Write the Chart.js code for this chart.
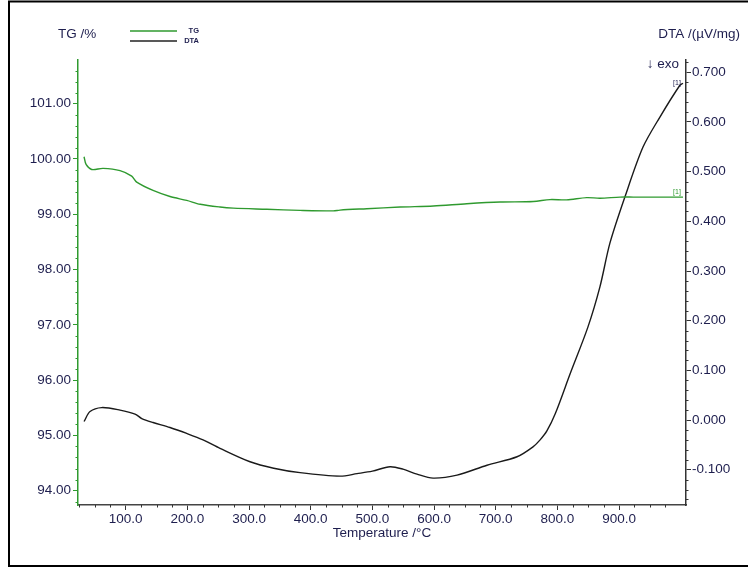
<!DOCTYPE html>
<html>
<head>
<meta charset="utf-8">
<script src="https://cdn.jsdelivr.net/npm/chart.js@4/dist/chart.umd.min.js"></script>
<style>
  html, body { margin: 0; padding: 0; background: #ffffff; }
  #wrap { width: 748px; height: 570px; position: relative; }
</style>
</head>
<body>
<div id="wrap"><canvas id="c" width="748" height="570"></canvas></div>
<script>
// ---- data ----
const tgTemperature = [32.4, 35.7, 44.8, 63.2, 90.8, 109.7, 117.8, 144.3, 171.8, 198.9, 220.8, 252.9, 274.5, 328.7, 382.7, 436.7, 447.5, 490.9, 544.9, 598.9, 653, 707, 761, 788, 815, 847.4, 869, 901.7, 923.3, 960, 1003.7];
const tgValues      = [100.04, 99.90, 99.81, 99.83, 99.79, 99.69, 99.58, 99.43, 99.32, 99.25, 99.18, 99.13, 99.11, 99.09, 99.07, 99.06, 99.075, 99.10, 99.13, 99.15, 99.19, 99.22, 99.23, 99.265, 99.26, 99.30, 99.29, 99.31, 99.31, 99.31, 99.31];

const dtaTemperature = [32.4, 42.1, 61.1, 90.8, 115.1, 126, 144.3, 171.8, 198.9, 225.4, 252.9, 301.6, 340, 382.7, 447.6, 475.1, 500, 528.6, 549.7, 572.4, 598.4, 637.3, 685.9, 734.6, 760.5, 772, 783, 796.7, 821, 849.5, 869, 885.2, 909.5, 938.7, 966.3, 998.7, 1003.7];
const dtaValues      = [-0.003, 0.017, 0.025, 0.020, 0.012, 0.003, -0.005, -0.015, -0.027, -0.040, -0.057, -0.084, -0.097, -0.106, -0.113, -0.108, -0.103, -0.094, -0.099, -0.109, -0.117, -0.111, -0.091, -0.074, -0.054, -0.040, -0.022, 0.013, 0.094, 0.187, 0.268, 0.356, 0.449, 0.549, 0.610, 0.674, 0.678];

const temperatureTicks = [100, 200, 300, 400, 500, 600, 700, 800, 900];
const tgTicks  = [94, 95, 96, 97, 98, 99, 100, 101];
const dtaTicks = [-0.1, 0, 0.1, 0.2, 0.3, 0.4, 0.5, 0.6, 0.7];

const seriesNames = ['TG', 'DTA'];
const axisTitles = { tg: 'TG /%', dta: 'DTA /(\u00B5V/mg)', temp: 'Temperature /\u00B0C', exo: '\u2193 exo' };

// ---- styles ----
const GREEN = '#2f9a2f';
const TEXT = '#1e1e4e';
const FONT = 'Liberation Sans, Arial, sans-serif';

function pairs(xs, ys) { return xs.map((x, i) => ({ x: x, y: ys[i] })); }

const decoPlugin = {
  id: 'deco',
  beforeDraw(chart) {
    const ctx = chart.ctx;
    ctx.save();
    ctx.fillStyle = '#ffffff';
    ctx.fillRect(0, 0, chart.width, chart.height);
    ctx.strokeStyle = '#000000';
    ctx.lineWidth = 2;
    ctx.beginPath();
    ctx.moveTo(760, 1.5);
    ctx.lineTo(9, 1.5);
    ctx.lineTo(9, 566);
    ctx.lineTo(760, 566);
    ctx.stroke();
    ctx.restore();
  },
  afterDraw(chart) {
    const ctx = chart.ctx;
    const a = chart.chartArea;
    const sx = chart.scales.x, sl = chart.scales.yTG, sr = chart.scales.yDTA;
    ctx.save();
    // minor ticks
    ctx.lineWidth = 1;
    ctx.strokeStyle = '#333333';
    ctx.beginPath();
    for (let k = 1; k * 25 <= sx.max; k++) {
      const v = k * 25;
      if (v < sx.min || v % 100 === 0) continue;
      const px = Math.round(sx.getPixelForValue(v)) + 0.5;
      ctx.moveTo(px, a.bottom); ctx.lineTo(px, a.bottom + 2.5);
    }
    for (let k = -9; k <= 37; k++) {
      const v = k * 0.02;
      if (v < sr.min || v > sr.max || k % 5 === 0) continue;
      const py = Math.round(sr.getPixelForValue(v)) + 0.5;
      ctx.moveTo(a.right, py); ctx.lineTo(a.right + 2.5, py);
    }
    ctx.stroke();
    ctx.strokeStyle = GREEN;
    ctx.beginPath();
    for (let k = 465; k <= 510; k++) {
      const v = k * 0.2;
      if (v < sl.min || v > sl.max || k % 5 === 0) continue;
      const py = Math.round(sl.getPixelForValue(v)) + 0.5;
      ctx.moveTo(a.left - 2.5, py); ctx.lineTo(a.left, py);
    }
    ctx.stroke();

    // titles
    ctx.fillStyle = TEXT;
    ctx.font = '13.5px ' + FONT;
    ctx.textBaseline = 'middle';
    ctx.textAlign = 'left';
    ctx.fillText(axisTitles.tg, 58, 34);
    ctx.textAlign = 'right';
    ctx.fillText(axisTitles.dta, 740, 34);
    ctx.fillText(axisTitles.exo, 679, 64);
    ctx.textAlign = 'center';
    ctx.fillText(axisTitles.temp, (a.left + a.right) / 2, 533);

    // legend
    ctx.lineWidth = 1.5;
    ctx.strokeStyle = GREEN;
    ctx.beginPath(); ctx.moveTo(130, 31); ctx.lineTo(177, 31); ctx.stroke();
    ctx.strokeStyle = '#222222';
    ctx.beginPath(); ctx.moveTo(130, 41); ctx.lineTo(177, 41); ctx.stroke();
    ctx.font = 'bold 7.5px ' + FONT;
    ctx.textAlign = 'right';
    ctx.fillStyle = TEXT;
    ctx.fillText(seriesNames[0], 199, 31);
    ctx.fillText(seriesNames[1], 199, 41);

    // end markers
    ctx.font = '7px ' + FONT;
    ctx.textAlign = 'center';
    ctx.fillStyle = TEXT;
    ctx.fillText('[1]', 677, 83);
    ctx.fillStyle = GREEN;
    ctx.fillText('[1]', 677, 192);
    ctx.restore();
  }
};

function setTicks(list) {
  return function (scale) { scale.ticks = list.map(v => ({ value: v })); };
}

new Chart(document.getElementById('c'), {
  type: 'scatter',
  data: {
    datasets: [
      {
        label: seriesNames[0],
        data: pairs(tgTemperature, tgValues),
        yAxisID: 'yTG',
        showLine: true,
        borderColor: GREEN,
        borderWidth: 1.4,
        pointRadius: 0,
        tension: 0.3,
        fill: false
      },
      {
        label: seriesNames[1],
        data: pairs(dtaTemperature, dtaValues),
        yAxisID: 'yDTA',
        showLine: true,
        borderColor: '#1a1a1a',
        borderWidth: 1.4,
        pointRadius: 0,
        tension: 0.3,
        fill: false
      }
    ]
  },
  options: {
    responsive: false,
    animation: false,
    devicePixelRatio: 1,
    layout: { padding: { left: 0, right: 0, top: 60, bottom: 0 } },
    plugins: { legend: { display: false }, tooltip: { enabled: false } },
    scales: {
      x: {
        type: 'linear',
        position: 'bottom',
        min: 22.6,
        max: 1008.6,
        afterBuildTicks: setTicks(temperatureTicks),
        afterFit(scale) { scale.height = 65; },
        grid: { drawOnChartArea: false, drawTicks: true, tickLength: 5, color: '#333333', lineWidth: 1 },
        border: { display: true, color: '#444444', width: 1.5 },
        ticks: {
          autoSkip: false, maxRotation: 0, padding: 1,
          color: TEXT, font: { family: FONT, size: 13.5 },
          callback: v => Number(v).toFixed(1)
        }
      },
      yTG: {
        type: 'linear',
        position: 'left',
        min: 93.74,
        max: 101.79,
        afterBuildTicks: setTicks(tgTicks),
        afterFit(scale) { scale.width = 78; },
        grid: { drawOnChartArea: false, drawTicks: true, tickLength: 5, color: GREEN, lineWidth: 1 },
        border: { display: true, color: GREEN, width: 1.5 },
        ticks: {
          autoSkip: false, padding: 2,
          color: TEXT, font: { family: FONT, size: 13.5 },
          callback: v => Number(v).toFixed(2)
        }
      },
      yDTA: {
        type: 'linear',
        position: 'right',
        min: -0.1711,
        max: 0.7248,
        afterBuildTicks: setTicks(dtaTicks),
        afterFit(scale) { scale.width = 62; },
        grid: { drawOnChartArea: false, drawTicks: true, tickLength: 5, color: '#333333', lineWidth: 1 },
        border: { display: true, color: '#333333', width: 1.5 },
        ticks: {
          autoSkip: false, padding: 1,
          color: TEXT, font: { family: FONT, size: 13.5 },
          callback: v => Number(v).toFixed(3)
        }
      }
    }
  },
  plugins: [decoPlugin]
});
</script>
</body>
</html>
